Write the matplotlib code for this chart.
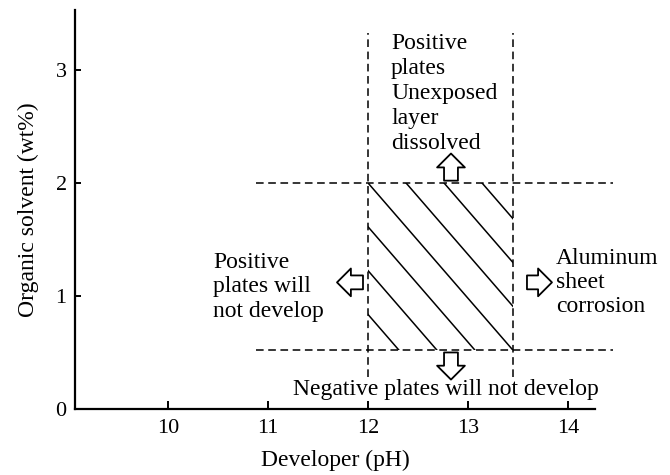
import matplotlib
matplotlib.use("Agg")
import matplotlib.pyplot as plt
import matplotlib.patches as mpatches
import numpy as np

# limits of the workable region
ph_low, ph_high = 12.0, 13.45
solv_low, solv_high = 0.52, 2.0

# extent of the dashed guide lines
h_line_x = [10.88, 14.45]
v_line_y = [0.28, 3.33]

xticks = [10, 11, 12, 13, 14]
yticks = [0, 1, 2, 3]
hatch_step = 0.38  # spacing of hatch lines along the top edge (pH units)

plt.rcParams['font.family'] = ['Liberation Serif', 'DejaVu Serif']

fig = plt.figure(figsize=(6.7, 4.75), dpi=100)
ax = fig.add_axes([0.112, 0.139, 0.776, 0.84])
ax.set_xlim(9.07, 14.27)
ax.set_ylim(0, 3.53)

for s in ['top', 'right']:
    ax.spines[s].set_visible(False)
for s in ['left', 'bottom']:
    ax.spines[s].set_linewidth(1.6)

ax.set_xticks(xticks)
ax.set_yticks(yticks)
ax.tick_params(axis='x', direction='in', length=6, width=1.4, labelsize=16, pad=7)
ax.tick_params(axis='y', direction='in', length=4, width=1.4, labelsize=16, pad=6)
ax.set_xlabel("Developer (pH)", fontsize=17, labelpad=9)
ax.set_ylabel("Organic solvent (wt%)", fontsize=17, labelpad=12)

dash = dict(color='black', lw=1.1, dashes=(5, 3), clip_on=False)
for y in [solv_low, solv_high]:
    ax.plot(h_line_x, [y, y], **dash)
for x in [ph_low, ph_high]:
    ax.plot([x, x], v_line_y, **dash)

# diagonal hatching of the working region
rect = mpatches.Rectangle((ph_low, solv_low), ph_high - ph_low, solv_high - solv_low,
                          fill=False, lw=0, transform=ax.transData)
ax.add_patch(rect)
slope = (solv_high - solv_low) / (ph_high - ph_low)
for k in range(-5, 6):
    x0 = ph_low + k * hatch_step
    xs = np.array([x0 - 3, x0 + 3])
    ys = solv_high - slope * (xs - x0)
    ln, = ax.plot(xs, ys, color='black', lw=1.1)
    ln.set_clip_path(rect)

# hollow block arrows
def block_arrow(tail, head):
    ax.annotate('', xy=head, xytext=tail,
                arrowprops=dict(arrowstyle='simple,head_length=0.5,head_width=1.0,tail_width=0.5',
                                fc='white', ec='black', lw=1.3,
                                shrinkA=0, shrinkB=0, mutation_scale=20))

block_arrow((12.83, 2.02), (12.83, 2.26))
block_arrow((12.83, 0.50), (12.83, 0.26))
block_arrow((13.59, 1.12), (13.84, 1.12))
block_arrow((11.95, 1.12), (11.69, 1.12))

ax.text(12.23, 3.33, "Positive\nplates\nUnexposed\nlayer\ndissolved",
        fontsize=17, ha='left', va='top', linespacing=1.25)
ax.text(13.88, 1.12, "Aluminum\nsheet\ncorrosion",
        fontsize=17, ha='left', va='center', linespacing=1.2)
ax.text(10.45, 1.08, "Positive\nplates will\nnot develop",
        fontsize=17, ha='left', va='center', linespacing=1.2)
ax.text(11.25, 0.17, "Negative plates will not develop",
        fontsize=17, ha='left', va='center')

fig.savefig("out.png", dpi=100)
